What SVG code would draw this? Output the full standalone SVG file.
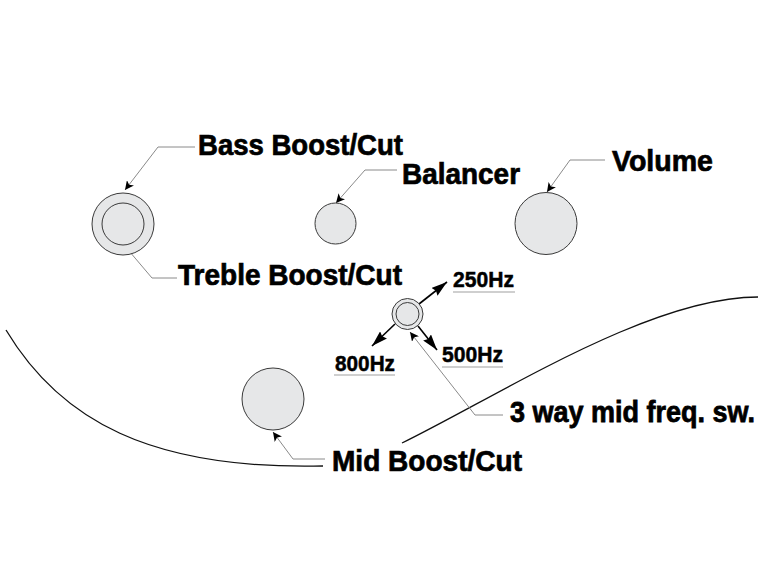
<svg xmlns="http://www.w3.org/2000/svg" width="762" height="562" viewBox="0 0 762 562">
<style>
.knob{fill:#e6e7e8;stroke:#3a3a3a;stroke-width:1}
.body{fill:none;stroke:#111;stroke-width:1.3}
.lead{fill:none;stroke:#8a8a8a;stroke-width:1}
.freq{fill:none;stroke:#000;stroke-width:1.6}
.ul{stroke:#a0a0a0;stroke-width:1.2}
.big{font-family:"Liberation Sans Narrow","Liberation Sans",Arial,sans-serif;font-weight:bold;font-size:29px;fill:#000;stroke:#000;stroke-width:0.7}
.small{font-family:"Liberation Sans Narrow","Liberation Sans",Arial,sans-serif;font-weight:bold;font-size:22px;fill:#000;stroke:#000;stroke-width:0.5}
</style>
<defs>
<marker id="la" viewBox="0 0 10 10" refX="10" refY="5" markerWidth="9" markerHeight="9" markerUnits="userSpaceOnUse" orient="auto">
<path d="M0,0 L10,5 L0,10 L2.5,5 Z" fill="#000"/>
</marker>
<marker id="fa" viewBox="0 0 16 10" refX="16" refY="5" markerWidth="16" markerHeight="10" markerUnits="userSpaceOnUse" orient="auto">
<path d="M0,0 L16,5 L0,10 L2,5 Z" fill="#000"/>
</marker>
</defs>
<rect width="762" height="562" fill="#fff"/>
<g id="body">
<path class="body" d="M6,330 C60,420 150,470 323,466"/>
<path class="body" d="M402,443 C500,395 650,297 758,297"/>
</g>
<g id="connectors">
<path class="lead" marker-end="url(#la)" d="M195,147 H158 L125,190"/>
<path class="lead" marker-end="url(#la)" d="M177,278 H152 L124,245"/>
<path class="lead" marker-end="url(#la)" d="M397,170 H365 L336,203"/>
<path class="lead" marker-end="url(#la)" d="M605,160 H570 L547,192"/>
<path class="lead" marker-end="url(#la)" d="M325,459 H293 L273,432"/>
<path class="lead" marker-end="url(#la)" d="M503,415 H475 L410,332"/>
<path class="freq" marker-end="url(#fa)" d="M419,304 L447,282"/>
<path class="freq" marker-end="url(#fa)" d="M395,324 L372,346"/>
<path class="freq" marker-end="url(#fa)" d="M418,326 L437,350"/>
</g>
<g id="bass-treble">
<circle class="knob" cx="123" cy="224" r="31"/>
<circle class="knob" cx="123" cy="224" r="21"/>
</g>
<g id="balancer"><circle class="knob" cx="335.5" cy="223.5" r="20.5"/></g>
<g id="volume"><circle class="knob" cx="546" cy="223.5" r="31"/></g>
<g id="mid"><circle class="knob" cx="273" cy="399" r="31"/></g>
<g id="switch">
<circle class="knob" cx="407.5" cy="314" r="15.5"/>
<circle class="knob" cx="407.5" cy="314" r="11.5"/>
</g>
<g id="labels">
<text class="big" x="198" y="155" textLength="205" lengthAdjust="spacingAndGlyphs">Bass Boost/Cut</text>
<text class="big" x="178" y="285" textLength="224" lengthAdjust="spacingAndGlyphs">Treble Boost/Cut</text>
<text class="big" x="402" y="184" textLength="118" lengthAdjust="spacingAndGlyphs">Balancer</text>
<text class="big" x="612" y="171" textLength="101" lengthAdjust="spacingAndGlyphs">Volume</text>
<text class="big" x="332" y="471" textLength="190" lengthAdjust="spacingAndGlyphs">Mid Boost/Cut</text>
<text class="big" transform="translate(510,422) scale(1,1.075)" x="0" y="0" style="font-size:27px" textLength="245" lengthAdjust="spacingAndGlyphs">3 way mid freq. sw.</text>
<text class="small" x="453" y="287" textLength="61" lengthAdjust="spacingAndGlyphs">250Hz</text>
<line class="ul" x1="453" y1="292" x2="515" y2="292"/>
<text class="small" x="335" y="371" textLength="60" lengthAdjust="spacingAndGlyphs">800Hz</text>
<line class="ul" x1="334" y1="375" x2="395" y2="375"/>
<text class="small" x="442" y="362" textLength="61" lengthAdjust="spacingAndGlyphs">500Hz</text>
<line class="ul" x1="442" y1="367" x2="503" y2="367"/>
</g>
</svg>
